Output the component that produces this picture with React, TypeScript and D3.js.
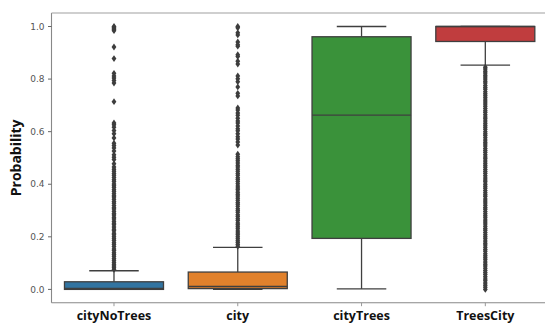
import React from "react";
import * as d3 from "d3";

const categories = ["cityNoTrees", "city", "cityTrees", "TreesCity"];
const colors = ["#3274a1", "#e1812c", "#3a923a", "#c03d3e"];
// [whiskerLow, q1, median, q3, whiskerHigh]
const stats = [
  [0.0, 0.0, 0.004, 0.029, 0.071],
  [0.0, 0.003, 0.011, 0.066, 0.16],
  [0.002, 0.194, 0.663, 0.961, 1.0],
  [0.853, 0.943, 1.0, 1.0, 1.0],
];
const outliersNoTrees = [
  1.0, 0.997, 0.993, 0.989, 0.984, 0.922, 0.878, 0.822, 0.812, 0.804, 0.795, 0.785, 0.714,
  0.633, 0.626, 0.617, 0.604, 0.592, 0.576, 0.556, 0.547, 0.538, 0.526, 0.512, 0.503, 0.494,
  0.478, 0.466, 0.457, 0.449, 0.441, 0.434, 0.426, 0.417, 0.41, 0.401, 0.394, 0.388, 0.379,
  0.372, 0.364, 0.356, 0.351, 0.343, 0.334, 0.328, 0.319, 0.311, 0.306, 0.297, 0.289, 0.283,
  0.274, 0.268, 0.259, 0.252, 0.246, 0.237, 0.229, 0.223, 0.214, 0.208, 0.2, 0.193, 0.186,
  0.177, 0.171, 0.163, 0.154, 0.148, 0.139, 0.133, 0.126, 0.118, 0.111, 0.103, 0.096, 0.089,
  0.082, 0.076,
];
const outliersCity = [
  1.0, 0.995, 0.976, 0.968, 0.941, 0.931, 0.925, 0.893, 0.886, 0.868, 0.857, 0.812, 0.801,
  0.79, 0.77, 0.746, 0.736, 0.69, 0.682, 0.671, 0.662, 0.651, 0.641, 0.633, 0.622, 0.611,
  0.603, 0.592, 0.581, 0.572, 0.561, 0.549, 0.514, 0.505, 0.497, 0.489, 0.481, 0.472, 0.466,
  0.457, 0.449, 0.441, 0.434, 0.425, 0.418, 0.41, 0.402, 0.393, 0.386, 0.379, 0.37, 0.362,
  0.355, 0.347, 0.339, 0.331, 0.324, 0.316, 0.307, 0.3, 0.293, 0.284, 0.277, 0.269, 0.262,
  0.253, 0.246, 0.238, 0.231, 0.222, 0.215, 0.208, 0.2, 0.193, 0.185, 0.178, 0.171, 0.164,
];
const outliersTreesCity = [
  0.845, 0.838, 0.83, 0.823, 0.815, 0.808, 0.8, 0.792, 0.785, 0.776, 0.768, 0.761, 0.752,
  0.744, 0.737, 0.729, 0.72, 0.713, 0.705, 0.697, 0.688, 0.68, 0.673, 0.664, 0.656, 0.649,
  0.641, 0.632, 0.624, 0.617, 0.609, 0.6, 0.592, 0.585, 0.577, 0.568, 0.56, 0.553, 0.545,
  0.536, 0.528, 0.521, 0.512, 0.504, 0.497, 0.488, 0.48, 0.472, 0.465, 0.456, 0.448, 0.441,
  0.432, 0.424, 0.416, 0.409, 0.4, 0.392, 0.385, 0.376, 0.368, 0.36, 0.353, 0.344, 0.336,
  0.329, 0.32, 0.312, 0.305, 0.296, 0.288, 0.28, 0.273, 0.264, 0.256, 0.249, 0.24, 0.232,
  0.225, 0.216, 0.208, 0.2, 0.193, 0.184, 0.176, 0.169, 0.16, 0.152, 0.145, 0.136, 0.128,
  0.12, 0.113, 0.104, 0.096, 0.089, 0.08, 0.072, 0.064, 0.057, 0.048, 0.04, 0.033, 0.024,
  0.016, 0.008, 0.0,
];
const outliers = [outliersNoTrees, outliersCity, [], outliersTreesCity];
const yTicks = [0.0, 0.2, 0.4, 0.6, 0.8, 1.0];
const yLabel = "Probability";

export default function App() {
  const W = 545, H = 324;
  const x = d3.scaleLinear().domain([-0.5, 3.5]).range([52.1, 547.2]);
  const y = d3.scaleLinear().domain([0, 1]).range([289.4, 26.5]);
  const left = 51.5, top = 13, bottom = 302.7;
  const bw = (x(1) - x(0)) * 0.8;
  const cw = bw / 2;
  const lineC = "#3f3f3f";
  const diamond = (cx: number, cy: number) =>
    `M${cx},${cy - 3.4}L${cx + 2.4},${cy}L${cx},${cy + 3.4}L${cx - 2.4},${cy}Z`;
  return (
    <svg width={W} height={H} style={{ position: "fixed", left: 0, top: 0, background: "#fff" }}>
      {/* spines */}
      <line x1={left} x2={left} y1={top} y2={bottom} stroke="#888" strokeWidth={1.1} />
      <line x1={left} x2={W} y1={bottom} y2={bottom} stroke="#888" strokeWidth={1.1} />
      <line x1={left} x2={W} y1={top} y2={top} stroke="#a0a0a0" strokeWidth={1.1} />
      {yTicks.map((t) => (
        <g key={t}>
          <line x1={left - 3.5} x2={left} y1={y(t)} y2={y(t)} stroke="#666" strokeWidth={1} />
          <text x={left - 7} y={y(t)} dy="0.35em" textAnchor="end" fontFamily="DejaVu Sans" fontSize={9} fill="#555">
            {d3.format(".1f")(t)}
          </text>
        </g>
      ))}
      <text transform={`translate(21,${(top + bottom) / 2}) rotate(-90)`} textAnchor="middle" fontFamily="Open Sans" fontWeight="bold" fontSize={14} fill="#111">
        {yLabel}
      </text>
      {categories.map((c, i) => {
        const cx = x(i);
        const [wl, q1, med, q3, wh] = stats[i];
        return (
          <g key={c}>
            <line x1={cx} x2={cx} y1={bottom} y2={bottom + 3.5} stroke="#999" strokeWidth={1} />
            <text x={cx} y={319.5} textAnchor="middle" fontFamily="Open Sans" fontWeight="bold" fontSize={12.5} fill="#111">
              {c}
            </text>
            <line x1={cx} x2={cx} y1={y(q3)} y2={y(wh)} stroke={lineC} strokeWidth={1.3} />
            <line x1={cx} x2={cx} y1={y(q1)} y2={y(wl)} stroke={lineC} strokeWidth={1.3} />
            <line x1={cx - cw / 2} x2={cx + cw / 2} y1={y(wh)} y2={y(wh)} stroke={lineC} strokeWidth={1.3} />
            <line x1={cx - cw / 2} x2={cx + cw / 2} y1={y(wl)} y2={y(wl)} stroke={lineC} strokeWidth={1.3} />
            <rect x={cx - bw / 2} y={y(q3)} width={bw} height={Math.max(0.5, y(q1) - y(q3))} fill={colors[i]} stroke={lineC} strokeWidth={1.3} />
            <line x1={cx - bw / 2} x2={cx + bw / 2} y1={y(med)} y2={y(med)} stroke={lineC} strokeWidth={1.3} />
            {outliers[i].map((v, k) => (
              <path key={k} d={diamond(cx, y(v))} fill="#3d3d3d" />
            ))}
          </g>
        );
      })}
    </svg>
  );
}
